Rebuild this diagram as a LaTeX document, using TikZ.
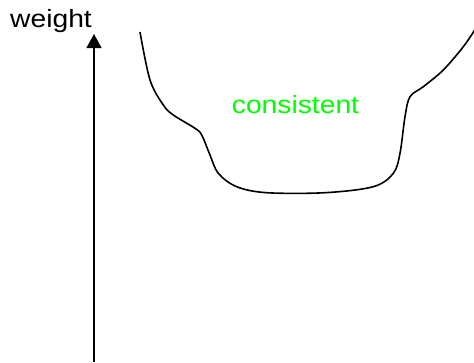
\documentclass[tikz,border=0pt]{standalone}
\usepackage{fontspec}
\setmainfont{Liberation Sans}
\usetikzlibrary{arrows.meta}
\definecolor{brightgreen}{RGB}{0,255,0}
\tikzset{
  lbl/.style={inner sep=0pt, anchor=base west, font=\fontsize{25}{30}\selectfont},
  curveline/.style={line width=1.6pt, line join=round},
  axisline/.style={line width=1.3pt, -{Triangle[width=15pt,length=14pt]}}
}
\newcommand{\hstretch}[1]{\scalebox{1.13}[1]{#1}}
\begin{document}
\begin{tikzpicture}[x=1pt,y=-1pt]
\useasboundingbox (0,0) rectangle (474,362);
\node[lbl] (weight) at (10,27.3) {\hstretch{weight}};
\node[lbl, text=brightgreen] (consistent) at (231.7,113) {\hstretch{consistent}};
\coordinate (abot) at (94,362);
\coordinate (atop) at (94,34);
\draw[axisline] (abot) -- (atop);
\draw[curveline] plot[smooth, tension=0.55] coordinates {
 (140,32) (150,80) (163.3,105) (173.3,115) (195,128.3) (201.7,135)
 (210,155) (218.3,173.3) (236.7,186.7) (266.7,192.7) (325,192.7)
 (373.3,186.7) (393.3,173.3) (400,153.3) (405,116.7) (410,96.7)
 (423.3,86.7) (443.3,70) (463.3,46.7) (476,28)};
\end{tikzpicture}
\end{document}
